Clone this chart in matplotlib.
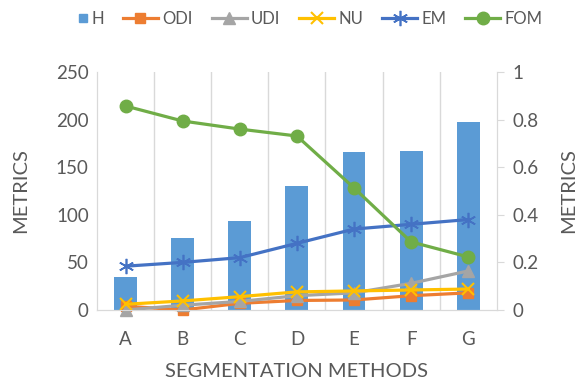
import matplotlib
matplotlib.use("Agg")
import matplotlib.pyplot as plt
from matplotlib.patches import Rectangle
from matplotlib.legend_handler import HandlerPatch
import numpy as np

plt.rcParams['font.family'] = ['Lato', 'DejaVu Sans']

methods = ['A', 'B', 'C', 'D', 'E', 'F', 'G']
H = [35, 76, 93, 130, 166, 167, 197]
ODI = [4, 0, 7, 10, 10.5, 15, 18]
UDI = [0, 5, 9, 15, 18, 28, 41]
NU = [6, 9.5, 14, 19, 20, 21, 22]
EM = [46, 50, 55, 70, 85, 90, 95]
FOM = [0.857, 0.794, 0.76, 0.731, 0.513, 0.286, 0.223]

txt = '#595959'
grid = '#D9D9D9'

fig = plt.figure(figsize=(5.81, 3.87), dpi=100)
ax = fig.add_axes([0.167, 0.199, 0.688, 0.615])
ax2 = ax.twinx()

x = np.arange(len(methods))
ax.bar(x, H, width=0.4, color='#5B9BD5', zorder=2)
l1, = ax.plot(x, ODI, color='#ED7D31', lw=2.3, marker='s', ms=7, zorder=3, clip_on=False, label='ODI')
l2, = ax.plot(x, UDI, color='#A5A5A5', lw=2.3, marker='^', ms=8, zorder=3, clip_on=False, label='UDI')
l3, = ax.plot(x, NU, color='#FFC000', lw=2.3, marker='x', ms=9, mew=1.5, zorder=4, clip_on=False, label='NU')
l4, = ax.plot(x, EM, color='#4472C4', lw=2.3, marker=(6, 2, 0), ms=11, mew=1.2, zorder=3, label='EM')
l5, = ax2.plot(x, FOM, color='#70AD47', lw=2.3, marker='o', ms=9, zorder=3, label='FOM')
hb = Rectangle((0, 0), 1, 1, color='#5B9BD5', label='H')


# small square handle pushed to the right of its slot, like Excel
def small_square(legend, orig_handle, xdescent, ydescent, width, height, fontsize):
    s = 6.0
    return Rectangle((width - xdescent - s, -ydescent + (height - s) / 2), s, s)


ax.set_xlim(-0.5, 6.5)
ax.set_ylim(0, 250)
ax2.set_ylim(0, 1)
ax.set_yticks([0, 50, 100, 150, 200, 250])
ax2.set_yticks([0, 0.2, 0.4, 0.6, 0.8, 1])
ax2.set_yticklabels(['0', '0.2', '0.4', '0.6', '0.8', '1'])
ax.set_xticks(x)
ax.set_xticklabels(methods)

for xb in np.arange(0.5, 6.5, 1):
    ax.axvline(xb, color=grid, lw=1, zorder=1)

for a in (ax, ax2):
    for s in a.spines.values():
        s.set_color(grid)
    a.spines['top'].set_visible(False)
    a.tick_params(colors=txt, labelsize=13.5, length=0)
ax2.tick_params(axis='y', length=5, color=grid, pad=6)
ax.tick_params(axis='x', pad=15)
ax.tick_params(axis='y', pad=6)

ax.set_ylabel('METRICS', color=txt, fontsize=14.5, labelpad=19)
ax2.set_ylabel('METRICS', color=txt, fontsize=14.5, rotation=90, labelpad=16)
ax.set_xlabel('SEGMENTATION METHODS', color=txt, fontsize=14.5, labelpad=11)

fig.legend(handles=[hb, l1, l2, l3, l4, l5], loc='upper left', bbox_to_anchor=(0.064, 1.01),
           ncol=6, frameon=False, fontsize=12, labelcolor=txt, handlelength=2.1,
           columnspacing=1.14, handletextpad=0.25,
           handler_map={hb: HandlerPatch(patch_func=small_square)})

fig.savefig('out.png', dpi=100)
